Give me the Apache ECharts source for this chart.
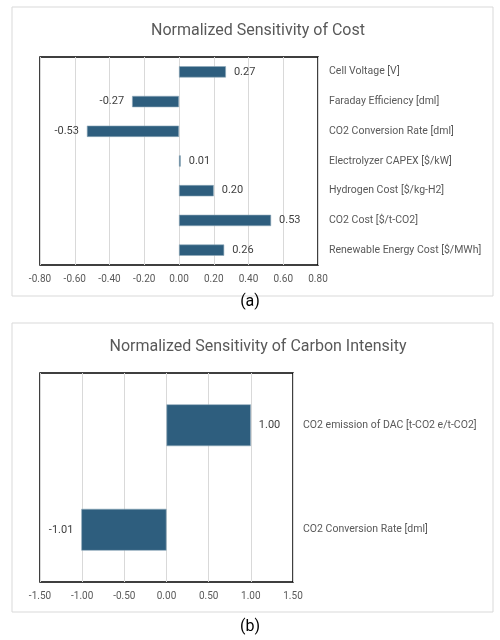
<!DOCTYPE html>
<html>
<head>
<meta charset="utf-8">
<script src="https://cdn.jsdelivr.net/npm/echarts@6/dist/echarts.min.js"></script>
<style>
html,body{margin:0;padding:0;background:#fff;}
#chart{width:500px;height:640px;}
</style>
</head>
<body>
<div id="chart"></div>
<script>
// Panel (a): Normalized Sensitivity of Cost
var costCategories = ['Cell Voltage [V]', 'Faraday Efficiency [dml]', 'CO2 Conversion Rate [dml]', 'Electrolyzer CAPEX [$/kW]', 'Hydrogen Cost [$/kg-H2]', 'CO2 Cost [$/t-CO2]', 'Renewable Energy Cost [$/MWh]'];
var costValues = [0.27, -0.27, -0.53, 0.01, 0.20, 0.53, 0.26];
var costTicks = { min: -0.8, max: 0.8, interval: 0.2 };

// Panel (b): Normalized Sensitivity of Carbon Intensity
var ciCategories = ['CO2 emission of DAC [t-CO2 e/t-CO2]', 'CO2 Conversion Rate [dml]'];
var ciValues = [1.00, -1.01];
var ciTicks = { min: -1.5, max: 1.5, interval: 0.5 };

var FONT = 'Roboto';
var BAR = '#2e5e7e';
var TXT = '#595959';

function barData(vals) {
  return vals.map(function (v) {
    return { value: v, label: { position: v < 0 ? 'left' : 'right' } };
  });
}

var chart = echarts.init(document.getElementById('chart'), null, { renderer: 'canvas' });

chart.setOption({
  backgroundColor: '#fff',
  animation: false,
  graphic: [
    { type: 'rect', shape: { x: 12, y: 7, width: 481, height: 289 }, style: { fill: 'none', stroke: '#d9d9d9', lineWidth: 1 }, z: -1 },
    { type: 'rect', shape: { x: 12, y: 323, width: 481, height: 289 }, style: { fill: 'none', stroke: '#d9d9d9', lineWidth: 1 }, z: -1 },
    { type: 'text', left: 'center', top: 294, style: { text: '(a)', font: '16px ' + FONT, fill: '#000', x: 0 } },
    { type: 'text', left: 'center', top: 619, style: { text: '(b)', font: '16px ' + FONT, fill: '#000' } }
  ],
  title: [
    { text: 'Normalized Sensitivity of Cost', left: 253, top: 18, textAlign: 'center', textStyle: { fontFamily: FONT, fontSize: 16, fontWeight: 'normal', color: TXT } },
    { text: 'Normalized Sensitivity of Carbon Intensity', left: 253, top: 334, textAlign: 'center', textStyle: { fontFamily: FONT, fontSize: 16, fontWeight: 'normal', color: TXT } }
  ],
  grid: [
    { left: 40, top: 57, width: 278, height: 208, show: true, borderColor: '#000', borderWidth: 1.5, backgroundColor: 'transparent' },
    { left: 40, top: 373, width: 253, height: 209, show: true, borderColor: '#000', borderWidth: 1.5, backgroundColor: 'transparent' }
  ],
  xAxis: [
    {
      gridIndex: 0, type: 'value', min: costTicks.min, max: costTicks.max, interval: costTicks.interval,
      axisLine: { show: false }, axisTick: { show: false },
      splitLine: { show: true, lineStyle: { color: '#d9d9d9', width: 1 } },
      axisLabel: { fontFamily: FONT, fontSize: 10, color: TXT, margin: 9, formatter: function (v) { return v.toFixed(2); } }
    },
    {
      gridIndex: 1, type: 'value', min: ciTicks.min, max: ciTicks.max, interval: ciTicks.interval,
      axisLine: { show: false }, axisTick: { show: false },
      splitLine: { show: true, lineStyle: { color: '#d9d9d9', width: 1 } },
      axisLabel: { fontFamily: FONT, fontSize: 10, color: TXT, margin: 9, formatter: function (v) { return v.toFixed(2); } }
    }
  ],
  yAxis: [
    {
      gridIndex: 0, type: 'category', data: costCategories, inverse: true, position: 'right',
      axisLine: { show: false }, axisTick: { show: false }, splitLine: { show: false },
      axisLabel: { fontFamily: FONT, fontSize: 10.5, color: TXT, margin: 11, align: 'left' }
    },
    {
      gridIndex: 1, type: 'category', data: ciCategories, inverse: true, position: 'right',
      axisLine: { show: false }, axisTick: { show: false }, splitLine: { show: false },
      axisLabel: { fontFamily: FONT, fontSize: 10.5, color: TXT, margin: 10, align: 'left' }
    }
  ],
  series: [
    {
      type: 'bar', xAxisIndex: 0, yAxisIndex: 0, data: barData(costValues), barWidth: '38%',
      itemStyle: { color: BAR, borderColor: '#8fa9bb', borderWidth: 0.6 },
      label: { show: true, fontFamily: FONT, fontSize: 11, color: '#404040', distance: 8, formatter: function (p) { return p.value.toFixed(2); } }
    },
    {
      type: 'bar', xAxisIndex: 1, yAxisIndex: 1, data: barData(ciValues), barWidth: '40%',
      itemStyle: { color: BAR, borderColor: '#8fa9bb', borderWidth: 0.6 },
      label: { show: true, fontFamily: FONT, fontSize: 11, color: '#404040', distance: 8, formatter: function (p) { return p.value.toFixed(2); } }
    }
  ]
});
</script>
</body>
</html>
